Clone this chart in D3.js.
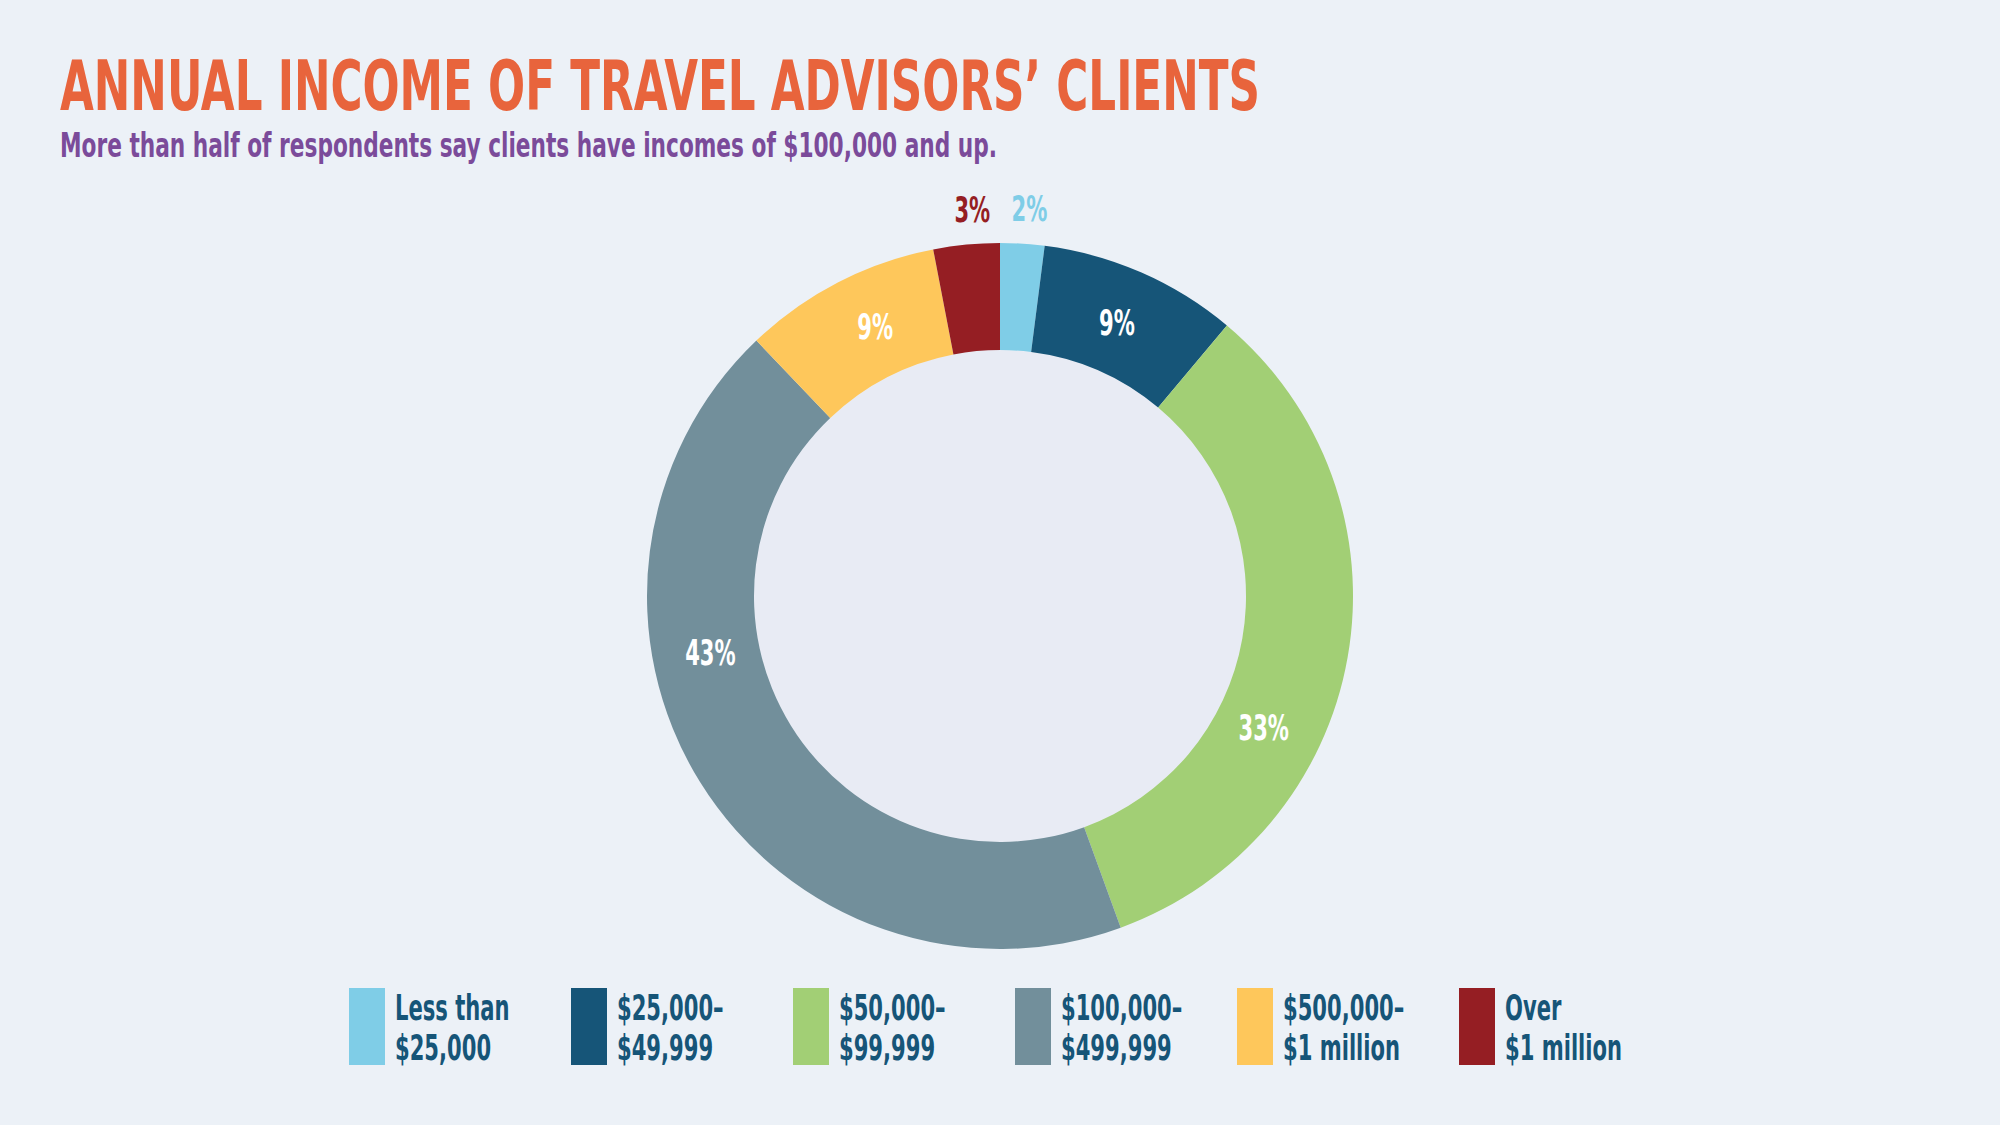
<!DOCTYPE html>
<html>
<head>
<meta charset="utf-8">
<script src="https://cdn.jsdelivr.net/npm/d3@7"></script>
<style>
  body { margin: 0; background: #ecf1f7; }
  svg { display: block; }
  text { font-family: "Liberation Sans Narrow", "DejaVu Sans Condensed", "Roboto", sans-serif; font-weight: bold; }
</style>
</head>
<body>
<div id="chart"></div>
<script>
// data
var categories = ["Less than $25,000", "$25,000–$49,999", "$50,000–$99,999", "$100,000–$499,999", "$500,000–$1 million", "Over $1 million"];
var legendLines = [["Less than", "$25,000"], ["$25,000–", "$49,999"], ["$50,000–", "$99,999"], ["$100,000–", "$499,999"], ["$500,000–", "$1 million"], ["Over", "$1 million"]];
var values = [2, 9, 33, 43, 9, 3];
var colors = ["#7fcde7", "#165578", "#a2cf75", "#728f9b", "#fec75b", "#951e23"];

var svgWidth = 2000;
var svgHeight = 1125;
var squeeze = 0.67; // the source font is much narrower than anything installed

var svg = d3.select("#chart")
  .append("svg")
  .attr("width", svgWidth)
  .attr("height", svgHeight);

svg.append("rect")
  .attr("width", svgWidth)
  .attr("height", svgHeight)
  .attr("fill", "#ecf1f7");

// title + subtitle
svg.append("text")
  .attr("x", 60)
  .attr("y", 110)
  .attr("fill", "#e8643c")
  .attr("font-size", 70)
  .attr("textLength", 1200)
  .attr("lengthAdjust", "spacingAndGlyphs")
  .text("ANNUAL INCOME OF TRAVEL ADVISORS’ CLIENTS");

svg.append("text")
  .attr("x", 60)
  .attr("y", 157)
  .attr("fill", "#7b4b9a")
  .attr("font-size", 33)
  .attr("textLength", 937)
  .attr("lengthAdjust", "spacingAndGlyphs")
  .text("More than half of respondents say clients have incomes of $100,000 and up.");

// donut
var cx = 1000, cy = 596;
var outerR = 353, innerR = 246;

var chartGroup = svg.append("g")
  .attr("transform", `translate(${cx}, ${cy})`);

chartGroup.append("circle")
  .attr("r", innerR)
  .attr("fill", "#e8ebf4");

var pie = d3.pie().sort(null).value(d => d);
var arcs = pie(values);

var arc = d3.arc().innerRadius(innerR).outerRadius(outerR);

chartGroup.selectAll("path")
  .data(arcs)
  .enter()
  .append("path")
  .attr("d", arc)
  .attr("fill", (d, i) => colors[i]);

// where along each slice the label sits (0 = start, 1 = end); small slices go outside
var labelFrac = [0.5, 0.49, 0.64, 0.63, 0.57, 0.5];
var labelR = (innerR + outerR) / 2 - 4;
var outsideR = 386;
var outsideNudge = [5, 0, 0, 0, 0, 9];

chartGroup.selectAll(".pct")
  .data(arcs)
  .enter()
  .append("text")
  .attr("class", "pct")
  .attr("text-anchor", "middle")
  .attr("dy", "0.3em")
  .attr("font-size", 35)
  .each(function (d, i) {
    var a = d.startAngle + (d.endAngle - d.startAngle) * labelFrac[i];
    var small = d.value < 5;
    var r = small ? outsideR : labelR;
    var x = Math.sin(a) * r + (small ? outsideNudge[i] : 0);
    var y = -Math.cos(a) * r;
    d3.select(this)
      .attr("transform", `translate(${x}, ${y}) scale(${squeeze}, 1)`)
      .attr("fill", small ? colors[i] : "#ffffff")
      .text(d.value + "%");
  });

// legend
var legendX = d3.scalePoint()
  .domain(d3.range(categories.length))
  .range([349, 1459]);

var legend = svg.selectAll(".legend")
  .data(categories)
  .enter()
  .append("g")
  .attr("class", "legend")
  .attr("transform", (d, i) => `translate(${legendX(i)}, 988)`);

legend.append("rect")
  .attr("width", 36)
  .attr("height", 77)
  .attr("fill", (d, i) => colors[i]);

legend.each(function (d, i) {
  var t = d3.select(this).append("text")
    .attr("transform", `translate(46, 0) scale(${squeeze}, 1)`)
    .attr("fill", "#165578")
    .attr("font-size", 35);
  t.append("tspan").attr("x", 0).attr("y", 32).text(legendLines[i][0]);
  t.append("tspan").attr("x", 0).attr("y", 72).text(legendLines[i][1]);
});
</script>
</body>
</html>
